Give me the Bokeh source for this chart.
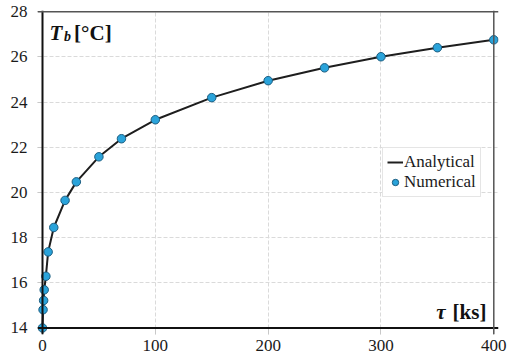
from bokeh.plotting import figure
from bokeh.models import Range1d, Span, Label, FixedTicker, Legend, LegendItem
from bokeh.embed import file_html
from bokeh.resources import INLINE

# ---- data ----
tau_ks = [0, 0.5, 1, 1.5, 3, 5, 10, 20, 30, 50, 70, 100, 150, 200, 250, 300, 350, 400]
T_numerical = [14.0, 14.81, 15.22, 15.69, 16.29, 17.37, 18.45, 19.65, 20.47, 21.58,
               22.38, 23.22, 24.20, 24.95, 25.52, 26.01, 26.41, 26.76]
T_analytical = [14.0, 14.81, 15.22, 15.69, 16.29, 17.37, 18.45, 19.65, 20.47, 21.58,
                22.38, 23.22, 24.20, 24.95, 25.52, 26.01, 26.41, 26.76]
x_ticks = [0, 100, 200, 300, 400]
y_ticks = [14, 16, 18, 20, 22, 24, 26, 28]

FONT = "Liberation Serif"

p = figure(width=507, height=360, output_backend="svg", toolbar_location=None,
           x_range=Range1d(-4.43, 404.17), y_range=Range1d(13.712, 28.0576),
           min_border_left=37, min_border_right=9, min_border_top=10, min_border_bottom=26)
p.outline_line_color = None
p.background_fill_color = "white"
p.border_fill_color = "white"

# grid
for g in (p.xgrid, p.ygrid):
    g.grid_line_color = "#dadada"
    g.grid_line_dash = "4 2"
    g.grid_line_width = 1

p.xaxis.ticker = FixedTicker(ticks=x_ticks)
p.yaxis.ticker = FixedTicker(ticks=y_ticks)
for ax in (p.xaxis, p.yaxis):
    ax.axis_line_color = None
    ax.major_tick_out = 0
    ax.minor_tick_line_color = None
    ax.major_tick_line_color = "#c8c8c8"
    ax.major_label_text_font = FONT
    ax.major_label_text_font_size = "17px"
    ax.major_label_text_color = "#1a1a1a"
p.xaxis.major_tick_in = 6
p.yaxis.major_tick_in = 5
p.xaxis.major_label_standoff = 5
p.yaxis.major_label_standoff = 10

# frame lines
p.add_layout(Span(location=0, dimension="height", line_color="#111111", line_width=2))
p.add_layout(Span(location=14, dimension="width", line_color="#111111", line_width=2))
p.add_layout(Span(location=400, dimension="height", line_color="#555555", line_width=1.5))
p.add_layout(Span(location=28, dimension="width", line_color="#555555", line_width=1.5))

line_r = p.line(tau_ks, T_analytical, line_color="#1e1e1e", line_width=2)
pts_r = p.scatter(tau_ks, T_numerical, size=8.5, fill_color="#2aa3da",
                  line_color="#1c5d80", line_width=1)

legend = Legend(items=[LegendItem(label="Analytical", renderers=[line_r]),
                       LegendItem(label="Numerical", renderers=[pts_r])],
                location=(345, 137))
legend.label_text_font = FONT
legend.label_text_font_size = "17px"
legend.label_text_color = "#1a1a1a"
legend.label_height = 20
legend.glyph_height = 20
legend.glyph_width = 16
legend.label_standoff = 1
legend.spacing = 0
legend.padding = 4
legend.margin = 0
legend.border_line_color = "#cccccc"
legend.border_line_width = 1
legend.background_fill_color = "white"
legend.background_fill_alpha = 1
p.add_layout(legend, "center")

# in-plot axis titles
p.add_layout(Label(x=6.2, y=27.08, text="T", text_font=FONT, text_font_size="21px",
                   text_font_style="bold italic", text_color="#111111",
                   text_baseline="alphabetic"))
p.add_layout(Label(x=19.1, y=26.92, text="b", text_font=FONT, text_font_size="14px",
                   text_font_style="bold italic", text_color="#111111",
                   text_baseline="alphabetic"))
p.add_layout(Label(x=28.0, y=27.08, text="[°C]", text_font=FONT, text_font_size="21px",
                   text_font_style="bold", text_color="#111111",
                   text_baseline="alphabetic"))
p.add_layout(Label(x=357.2, y=14.70, text="τ", text_font=FONT, text_font_size="21px",
                   text_font_style="bold italic", text_color="#111111",
                   text_align="right", text_baseline="alphabetic"))
p.add_layout(Label(x=393.5, y=14.70, text="[ks]", text_font=FONT, text_font_size="21px",
                   text_font_style="bold", text_color="#111111",
                   text_align="right", text_baseline="alphabetic"))

open("out.html", "w").write(file_html(p, INLINE))
